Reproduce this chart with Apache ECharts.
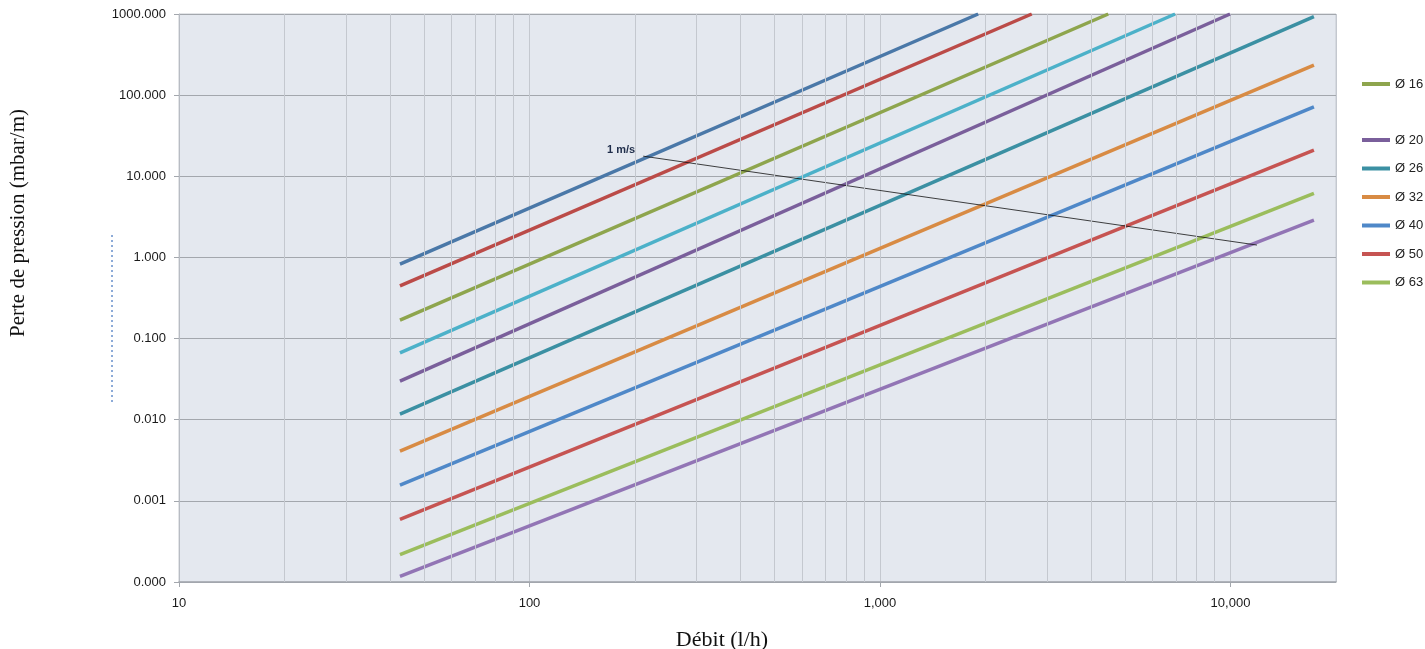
<!DOCTYPE html>
<html>
<head>
<meta charset="utf-8">
<script src="https://cdn.jsdelivr.net/npm/echarts@6/dist/echarts.min.js"></script>
<style>
  html, body { margin: 0; padding: 0; background: #fff; }
  #chart { width: 1425px; height: 649px; }
</style>
</head>
<body>
<div id="chart"></div>
<script>
// valeurs (débit l/h, perte mbar/m)
const seriesNames = ['courbe 1', 'courbe 2', 'Ø 16', 'courbe 4', 'Ø 20', 'Ø 26', 'Ø 32', 'Ø 40', 'Ø 50', 'Ø 63', 'courbe 11']
const seriesColors = ['#4a78a8', '#bb4b48', '#8ea54d', '#4cb1c9', '#7a5f9b', '#3b90a3', '#d88b44', '#4f88c8', '#c65452', '#9bbd5c', '#9275b5']
const startFlow = [42.7, 42.7, 42.7, 42.7, 42.7, 42.7, 42.7, 42.7, 42.7, 42.7, 42.7]
const startLoss = [0.826, 0.447, 0.169, 0.0667, 0.0299, 0.0117, 0.00409, 0.00156, 0.000593, 0.000218, 0.000117]
const endFlow = [1906, 2710, 4480, 6950, 9970, 17300, 17300, 17300, 17300, 17300, 17300]
const endLoss = [1000, 1000, 1000, 1000, 1000, 926, 235, 71.9, 21.0, 6.15, 2.88]

// droite 1 m/s
const speedLine = [[211, 17.7], [11900, 1.42]]

// graduations secondaires de l'axe des débits
const minorFlows = [20, 30, 40, 50, 60, 70, 80, 90, 200, 300, 400, 500, 600, 700, 800, 900,
  2000, 3000, 4000, 5000, 6000, 7000, 8000, 9000]

const legendTop = ['Ø 16']
const legendRest = ['Ø 20', 'Ø 26', 'Ø 32', 'Ø 40', 'Ø 50', 'Ø 63']

const chart = echarts.init(document.getElementById('chart'))

const curves = seriesNames.map(function (name, i) {
  return {
    name: name,
    type: 'line',
    z: 3,
    symbol: 'none',
    silent: true,
    color: seriesColors[i],
    lineStyle: { width: 3.5, color: seriesColors[i], cap: 'butt' },
    data: [[startFlow[i], startLoss[i]], [endFlow[i], endLoss[i]]]
  }
})

const legendCommon = {
  orient: 'vertical',
  left: 1362,
  padding: 0,
  icon: 'rect',
  itemWidth: 28,
  itemHeight: 4,
  itemGap: 14.5,
  selectedMode: false,
  textStyle: { fontFamily: 'Liberation Sans', fontSize: 13, color: '#222', lineHeight: 14 }
}

const option = {
  animation: false,
  grid: {
    left: 179, top: 14, width: 1157, height: 568,
    show: true, backgroundColor: '#e4e8ef', borderColor: '#c6cad1', borderWidth: 1
  },
  legend: [
    Object.assign({}, legendCommon, { top: 77, data: legendTop }),
    Object.assign({}, legendCommon, { top: 133, data: legendRest })
  ],
  xAxis: {
    type: 'log', logBase: 10, min: 10, max: 20000,
    axisLine: { show: true, lineStyle: { color: '#a3a7ad', width: 1.5 } },
    axisTick: { show: true, length: 5, lineStyle: { color: '#a3a7ad' } },
    splitLine: { show: true, lineStyle: { color: '#c4c8cf', width: 1 } },
    axisLabel: {
      margin: 15, fontFamily: 'Liberation Sans', fontSize: 13, color: '#1a1a1a',
      showMaxLabel: false,
      formatter: function (v) {
        const l = Math.log10(v)
        if (Math.abs(l - Math.round(l)) > 1e-6) return ''
        return Math.round(v).toLocaleString('en-US')
      }
    }
  },
  yAxis: {
    type: 'log', logBase: 10, min: 0.0001, max: 1000,
    axisLine: { show: true, lineStyle: { color: '#b8bcc3', width: 1 } },
    axisTick: { show: true, length: 5, lineStyle: { color: '#a3a7ad' } },
    splitLine: { show: true, lineStyle: { color: '#a3a7ad', width: 1.2 } },
    axisLabel: {
      margin: 13, fontFamily: 'Liberation Sans', fontSize: 13, color: '#1a1a1a',
      formatter: function (v) { return v.toFixed(3) }
    }
  },
  graphic: [
    {
      type: 'text', x: 18, y: 223, rotation: Math.PI / 2,
      style: {
        text: 'Perte de pression (mbar/m)', fill: '#111',
        font: '21px "Liberation Serif"', textAlign: 'center', textVerticalAlign: 'middle'
      }
    },
    {
      type: 'text', x: 722, y: 640,
      style: {
        text: 'Débit (l/h)', fill: '#111',
        font: '22px "Liberation Serif"', textAlign: 'center', textVerticalAlign: 'middle'
      }
    },
    {
      type: 'line', shape: { x1: 112, y1: 235, x2: 112, y2: 402 },
      style: { stroke: '#1a56b0', lineWidth: 1, lineDash: [2, 3] }
    }
  ],
  series: [
    {
      name: 'grille',
      type: 'line',
      z: 1,
      data: [],
      silent: true,
      markLine: {
        silent: true,
        symbol: 'none',
        label: { show: false },
        lineStyle: { color: '#c4c8cf', width: 1, type: 'solid' },
        emphasis: { disabled: true },
        data: minorFlows.map(function (f) { return { xAxis: f } })
      }
    }
  ].concat(curves).concat([
    {
      name: '1 m/s',
      type: 'line',
      z: 4,
      symbol: 'none',
      silent: true,
      lineStyle: { width: 0.8, color: '#111' },
      data: speedLine,
      markPoint: {
        symbol: 'circle', symbolSize: 0,
        label: {
          show: true, formatter: '1 m/s', position: 'left', distance: 8, offset: [0, -6],
          fontFamily: 'Liberation Sans', fontSize: 11, fontWeight: 'bold', color: '#1f2d4a'
        },
        data: [{ coord: speedLine[0] }]
      }
    }
  ])
}

chart.setOption(option)
</script>
</body>
</html>
